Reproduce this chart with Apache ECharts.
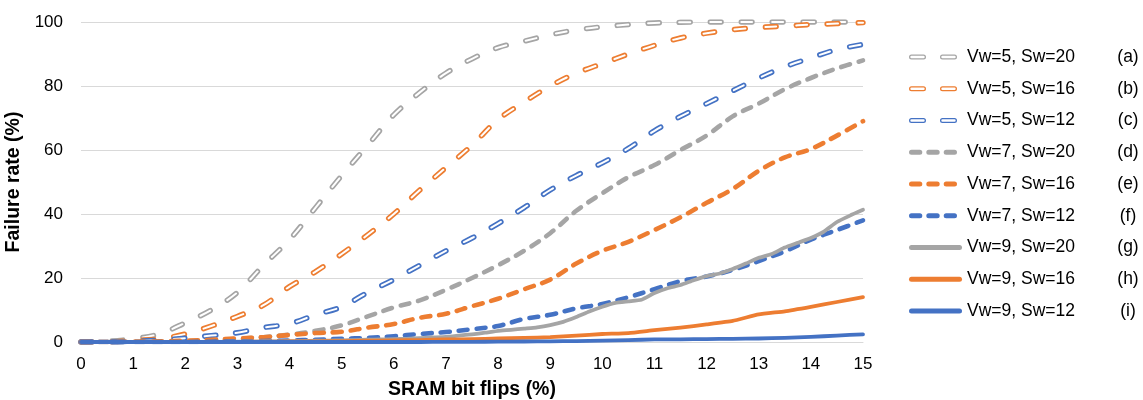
<!DOCTYPE html>
<html>
<head>
<meta charset="utf-8">
<script src="https://cdn.jsdelivr.net/npm/echarts@6/dist/echarts.min.js"></script>
<style>
  html, body { margin: 0; padding: 0; background: #ffffff; }
  #chart { width: 1143px; height: 400px; }
</style>
</head>
<body>
<div id="chart"></div>
<script>
// SRAM bit flips (%) sampled every 0.5
const bitFlips = [0, 0.5, 1, 1.5, 2, 2.5, 3, 3.5, 4, 4.5, 5, 5.5, 6, 6.5, 7, 7.5,
  8, 8.5, 9, 9.5, 10, 10.5, 11, 11.5, 12, 12.5, 13, 13.5, 14, 14.5, 15];
// finer sampling used for the noisier Vw=9, Sw=20 run
const bitFlipsFine = [0, 0.25, 0.5, 0.75, 1, 1.25, 1.5, 1.75, 2, 2.25, 2.5, 2.75, 3, 3.25, 3.5, 3.75,
  4, 4.25, 4.5, 4.75, 5, 5.25, 5.5, 5.75, 6, 6.25, 6.5, 6.75, 7, 7.25, 7.5, 7.75,
  8, 8.25, 8.5, 8.75, 9, 9.25, 9.5, 9.75, 10, 10.25, 10.5, 10.75, 11, 11.25, 11.5, 11.75,
  12, 12.25, 12.5, 12.75, 13, 13.25, 13.5, 13.75, 14, 14.25, 14.5, 14.75, 15];

const seriesNames = ['Vw=5, Sw=20', 'Vw=5, Sw=16', 'Vw=5, Sw=12',
  'Vw=7, Sw=20', 'Vw=7, Sw=16', 'Vw=7, Sw=12',
  'Vw=9, Sw=20', 'Vw=9, Sw=16', 'Vw=9, Sw=12'];
const seriesTags = ['(a)', '(b)', '(c)', '(d)', '(e)', '(f)', '(g)', '(h)', '(i)'];

// failure rate (%)
const failA = [0, 0.2, 1, 2.5, 6, 10, 15.5, 24, 32, 42, 52, 61.5, 71, 78, 84, 88.5,
  92, 94, 96, 97.5, 98.5, 99.2, 99.7, 99.9, 100, 100, 100, 100, 100, 100, 100];
const failB = [0, 0, 0.5, 1, 2.5, 5, 8, 11.5, 17.3, 22, 27.5, 33.5, 40, 47.5, 54.5, 61.5,
  69.5, 75, 80, 84, 87, 90, 92.7, 95, 96.5, 97.6, 98.3, 98.7, 99.2, 99.5, 99.8];
const failC = [0, 0, 0.2, 0.6, 1.2, 2, 2.9, 4.5, 5.7, 8.5, 11, 15.5, 19.5, 24, 28.5, 32.5,
  37, 42, 47.5, 52, 56, 60.5, 66, 70.5, 74.5, 78.5, 82.5, 86, 88.8, 91.4, 93];
const failD = [0, 0, 0, 0, 0.2, 0.5, 1, 1.5, 2.3, 3.5, 5.2, 8, 10.8, 13, 16.3, 20,
  24, 28.5, 34, 41, 46.5, 51.5, 55.3, 60, 64.5, 70.5, 74.5, 79, 82.5, 85.5, 88];
const failE = [0, 0, 0.1, 0.2, 0.4, 0.7, 1.1, 1.5, 2.2, 2.8, 3.2, 4.5, 5.6, 7.6, 8.8, 11.2,
  13.5, 16.5, 19.5, 24.5, 28.5, 31.3, 35, 39, 43.5, 47.8, 53.5, 57.7, 60.3, 64.5, 69];
const failF = [0, 0, 0, 0, 0, 0.1, 0.2, 0.3, 0.5, 0.7, 1, 1.3, 1.8, 2.5, 3.1, 4,
  5, 7.2, 8.5, 10.5, 11.9, 14, 16.5, 19, 20.5, 22.5, 25.3, 28.3, 32, 35, 38];
const failG = [0, 0, 0, 0, 0, 0, 0, 0, 0, 0, 0.05, 0.05, 0.1, 0.1, 0.15, 0.2,
  0.25, 0.3, 0.4, 0.45, 0.5, 0.6, 0.7, 0.8, 0.9, 1.0, 1.2, 1.4, 1.6, 2.0, 2.4, 2.9,
  3.5, 3.8, 4.2, 4.6, 5.3, 6.3, 7.8, 9.5, 11, 12.2, 12.7, 13.2, 15.3, 16.8, 17.8, 19.3,
  20.6, 21.4, 22.8, 24.5, 26.3, 27.5, 29.5, 31, 32.5, 34.5, 37.5, 39.5, 41.3];
const failH = [0, 0, 0, 0, 0, 0, 0.05, 0.1, 0.15, 0.2, 0.3, 0.4, 0.5, 0.6, 0.8, 0.9,
  1.1, 1.3, 1.5, 2, 2.5, 2.8, 3.7, 4.5, 5.5, 6.6, 8.6, 9.6, 11, 12.5, 14];
const failI = [0, 0, 0, 0, 0, 0, 0, 0, 0, 0, 0, 0, 0, 0, 0.05, 0.05,
  0.1, 0.15, 0.2, 0.3, 0.4, 0.6, 0.8, 0.85, 0.9, 1.0, 1.1, 1.3, 1.6, 2, 2.4];

const GRAY = '#A5A5A5';
const ORANGE = '#ED7D31';
const BLUE = '#4472C4';
const FONT = '"Liberation Sans", Arial, sans-serif';

function pairs(xs, ys) { return xs.map((x, i) => [x, ys[i]]); }

// legend glyphs (53 x 5 box)
function capsule(x0, x1) {
  const h = 5, r = h / 2;
  return `M${x0 + r},0 H${x1 - r} A${r},${r} 0 0 1 ${x1 - r},${h} H${x0 + r} A${r},${r} 0 0 1 ${x0 + r},0 Z`;
}
function hole(x0, x1) {
  const h = 5, r = h / 2, t = 1.3, r2 = r - t;
  return `M${x0 + r},${t} A${r2},${r2} 0 0 0 ${x0 + r},${h - t} H${x1 - r} A${r2},${r2} 0 0 0 ${x1 - r},${t} Z`;
}
const pad = 'M52.99,2.49 H53 V2.51 H52.99 Z';
const iconHollow = 'path://' + capsule(0, 17) + hole(0, 17) + capsule(31, 48) + hole(31, 48) + pad;
const iconDashed = 'path://' + capsule(0, 13.3) + capsule(17.3, 30.7) + capsule(34.7, 48) + pad;
const iconSolid = 'path://' + capsule(0, 53);

const specs = [
  { data: pairs(bitFlips, failA), color: GRAY, kind: 'hollow' },
  { data: pairs(bitFlips, failB), color: ORANGE, kind: 'hollow' },
  { data: pairs(bitFlips, failC), color: BLUE, kind: 'hollow' },
  { data: pairs(bitFlips, failD), color: GRAY, kind: 'dashed' },
  { data: pairs(bitFlips, failE), color: ORANGE, kind: 'dashed' },
  { data: pairs(bitFlips, failF), color: BLUE, kind: 'dashed' },
  { data: pairs(bitFlipsFine, failG), color: GRAY, kind: 'solid' },
  { data: pairs(bitFlips, failH), color: ORANGE, kind: 'solid' },
  { data: pairs(bitFlips, failI), color: BLUE, kind: 'solid' }
];

const series = [];
specs.forEach((s, i) => {
  const base = {
    name: seriesNames[i], type: 'line', data: s.data, symbol: 'none',
    silent: true, animation: false, itemStyle: { color: s.color }
  };
  if (s.kind === 'hollow') {
    series.push(Object.assign({}, base, {
      smooth: 0.35,
      lineStyle: { color: s.color, width: 5.4, type: [11, 20], cap: 'round', join: 'round' }
    }));
    // white core that hollows the dashes out
    series.push(Object.assign({}, base, {
      smooth: 0.35,
      lineStyle: { color: '#ffffff', width: 2.0, type: [11, 20], cap: 'round', join: 'round' }
    }));
  } else if (s.kind === 'dashed') {
    series.push(Object.assign({}, base, {
      smooth: 0.35,
      lineStyle: { color: s.color, width: 4.6, type: [9, 9], cap: 'round', join: 'round' }
    }));
  } else {
    series.push(Object.assign({}, base, {
      smooth: 0.15,
      lineStyle: { color: s.color, width: 3.8, cap: 'round', join: 'round' }
    }));
  }
});

const iconFor = { hollow: iconHollow, dashed: iconDashed, solid: iconSolid };

const chart = echarts.init(document.getElementById('chart'), null, { renderer: 'canvas' });
chart.setOption({
  backgroundColor: '#ffffff',
  animation: false,
  textStyle: { fontFamily: FONT },
  grid: { left: 81, right: 280, top: 22, bottom: 58, containLabel: false, outerBoundsMode: 'none' },
  xAxis: {
    type: 'value', min: 0, max: 15, interval: 1,
    axisLine: { show: true, lineStyle: { color: '#D9D9D9', width: 1 } },
    axisTick: { show: false },
    splitLine: { show: false },
    axisLabel: { fontSize: 17, color: '#000000', margin: 14, fontFamily: FONT },
    name: 'SRAM bit flips (%)', nameLocation: 'middle', nameGap: 38,
    nameTextStyle: { fontSize: 19.5, fontWeight: 'bold', color: '#000000', fontFamily: FONT }
  },
  yAxis: {
    type: 'value', min: 0, max: 100, interval: 20,
    axisLine: { show: false },
    axisTick: { show: false },
    splitLine: { show: true, lineStyle: { color: '#D9D9D9', width: 1 } },
    axisLabel: { fontSize: 17, color: '#000000', margin: 18, fontFamily: FONT },
    name: 'Failure rate (%)', nameLocation: 'middle', nameGap: 50, nameRotate: 90,
    nameTextStyle: { fontSize: 19.5, fontWeight: 'bold', color: '#000000', fontFamily: FONT }
  },
  legend: {
    orient: 'vertical', left: 909, top: 47, padding: 0,
    itemWidth: 53, itemHeight: 5, itemGap: 11.75,
    selectedMode: false,
    itemStyle: { borderWidth: 0 },
    data: seriesNames.map((n, i) => ({
      name: n,
      icon: iconFor[specs[i].kind],
      itemStyle: { color: specs[i].color, borderWidth: 0 }
    })),
    formatter: name => `{n|${name}}{t|${seriesTags[seriesNames.indexOf(name)]}}`,
    textStyle: {
      fontFamily: FONT, fontSize: 17.5, color: '#000000', lineHeight: 20,
      rich: {
        n: { width: 146, fontSize: 17.5, lineHeight: 20, color: '#000000', fontFamily: FONT },
        t: { width: 30, align: 'center', fontSize: 17.5, lineHeight: 20, color: '#000000', fontFamily: FONT }
      }
    }
  },
  series: series
});
</script>
</body>
</html>
